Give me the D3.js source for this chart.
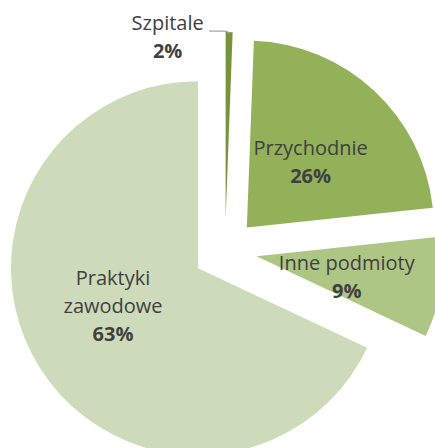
<!DOCTYPE html>
<html>
<head>
<meta charset="utf-8">
<script src="https://d3js.org/d3.v7.min.js"></script>
<style>
body { margin: 0; background: #fff; }
svg { display: block; }
text { font-family: "Open Sans", sans-serif; fill: #404040; }
</style>
</head>
<body>
<script>
// categories and the slice shares as drawn in the picture
var categories = ["Szpitale", "Przychodnie", "Inne podmioty", "Praktyki zawodowe"];
var sliceShare = [0.6, 22.7, 8.7, 68.0];
// percentage labels printed on the chart
var pctLabels = ["2%", "26%", "9%", "63%"];
// label text split into lines
var nameLines = [["Szpitale"], ["Przychodnie"], ["Inne podmioty"], ["Praktyki", "zawodowe"]];

var colors = ["#77933c", "#93b159", "#aec684", "#cedbba"];
var labelNudge = [[0, 0], [0, 3], [-2, 5], [-6, -12]];

var width = 435, height = 448,
    cx = 225, cy = 251,
    radius = 187,
    explode = 32,
    lh = 28;

var svg = d3.select("body").append("svg")
    .attr("width", width)
    .attr("height", height);

var data = categories.map(function(c, i) {
  return { name: c, value: sliceShare[i], pct: pctLabels[i], lines: nameLines[i], i: i };
});

var pie = d3.pie()
    .sort(null)
    .value(function(d) { return d.value; });

var arc = d3.arc()
    .innerRadius(0)
    .outerRadius(radius);

var arcs = pie(data);

function dir(a) { return [Math.sin(a), -Math.cos(a)]; }

arcs.forEach(function(d) {
  var m = dir((d.startAngle + d.endAngle) / 2);
  d.vx = cx + explode * m[0];
  d.vy = cy + explode * m[1];
  d.mid = m;
});

svg.selectAll("path.slice")
    .data(arcs)
  .enter().append("path")
    .attr("class", "slice")
    .attr("fill", function(d) { return colors[d.data.i]; })
    .attr("transform", function(d) { return "translate(" + d.vx + "," + d.vy + ")"; })
    .attr("d", arc);

var fs = 20;

arcs.forEach(function(d) {
  var i = d.data.i, lx, ly;
  var lines = d.data.lines.concat([d.data.pct]);
  var g = svg.append("g");
  if (i === 0) {
    // outside label with leader line
    var ox = d.vx + radius * d.mid[0], oy = d.vy + radius * d.mid[1];
    lx = ox - 61.5;
    ly = oy - 2;
    svg.append("path")
        .attr("d", "M" + (ox - 20) + "," + (oy - 1) + "L" + (ox - 5) + "," + (oy - 1) +
              "Q" + (ox - 1) + "," + (oy - 1) + " " + (ox) + "," + (oy + 1.5))
        .attr("fill", "none")
        .attr("stroke", "#a6a6a6")
        .attr("stroke-width", 1.3);
  } else {
    lx = d.vx + radius * 0.5 * d.mid[0] + labelNudge[i][0];
    ly = d.vy + radius * 0.5 * d.mid[1] - (lines.length - 1) * lh / 2 + 7 + labelNudge[i][1];
  }
  g.selectAll("text")
      .data(lines)
    .enter().append("text")
      .attr("x", lx)
      .attr("y", function(t, k) { return ly + k * lh; })
      .attr("text-anchor", "middle")
      .style("font-size", fs + "px")
      .style("font-weight", function(t, k) { return k === lines.length - 1 ? "bold" : "normal"; })
      .text(function(t) { return t; });
});
</script>
</body>
</html>
